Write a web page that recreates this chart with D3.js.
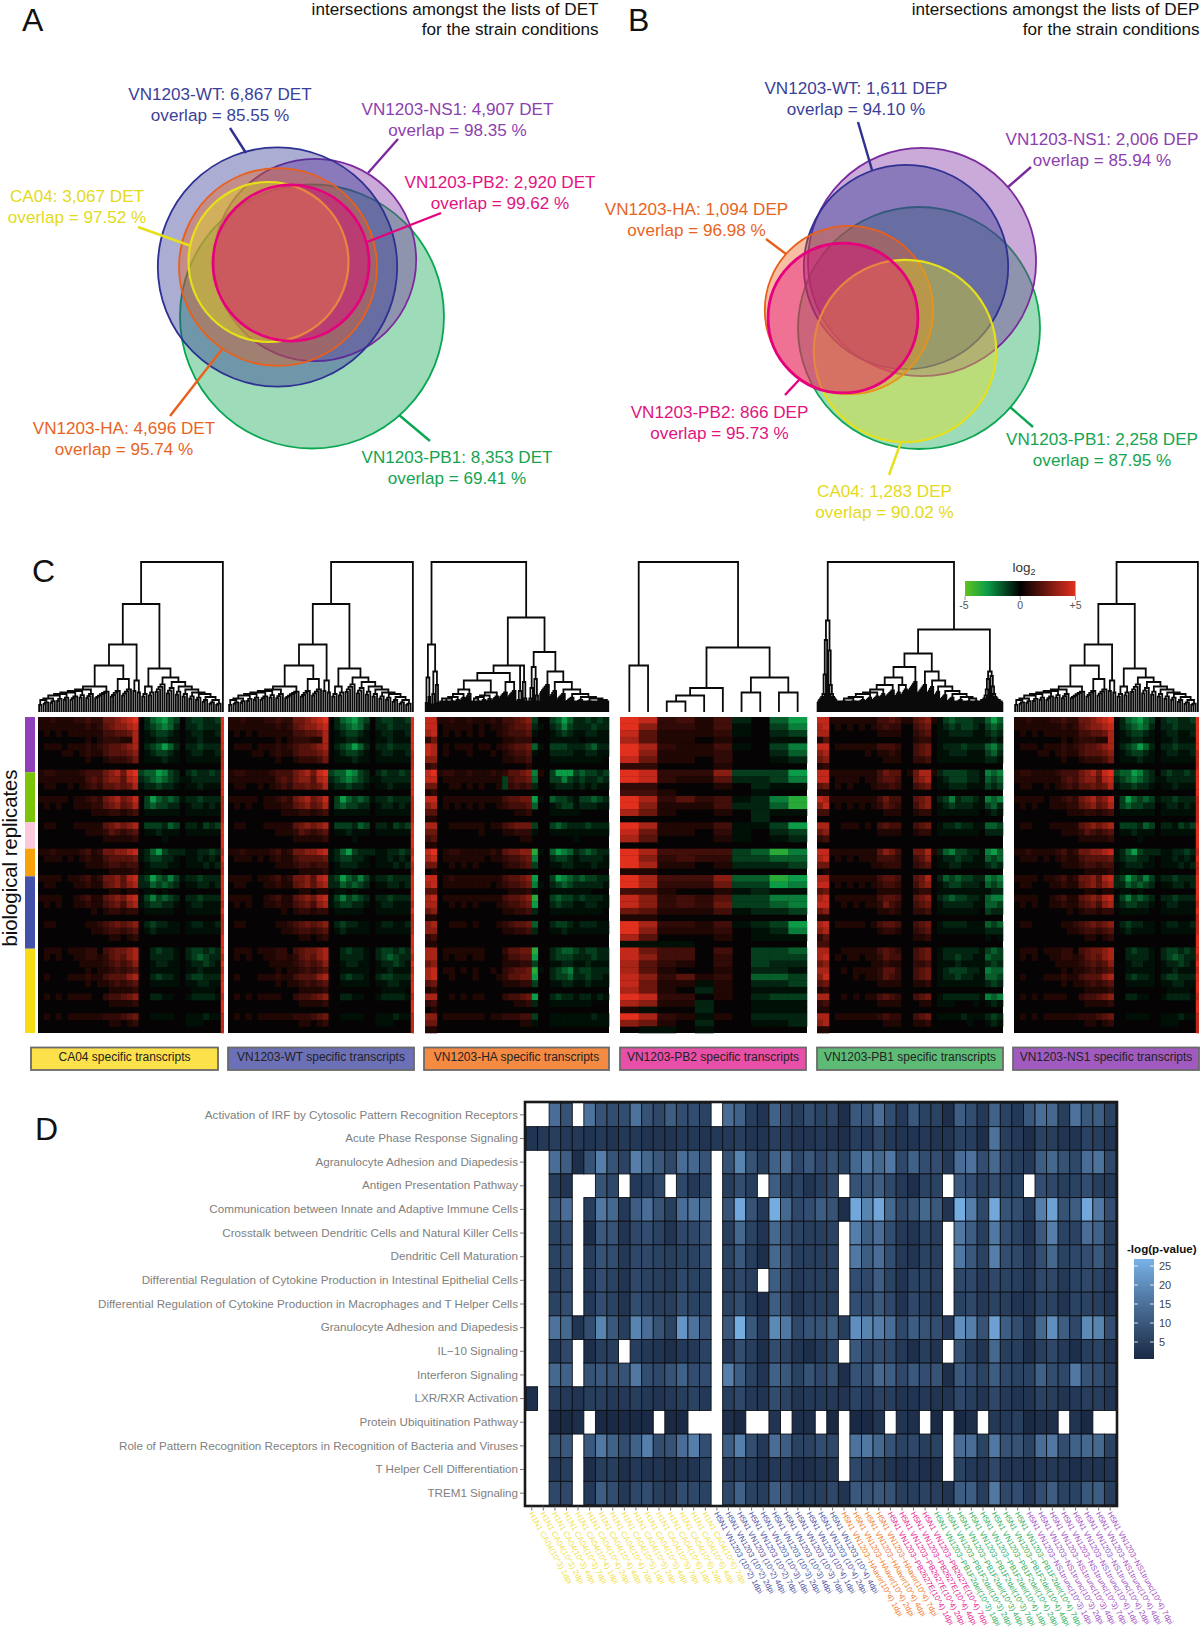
<!DOCTYPE html>
<html><head><meta charset="utf-8">
<script src="https://cdnjs.cloudflare.com/ajax/libs/d3/7.8.5/d3.min.js"></script>
<style>html,body{margin:0;padding:0;background:#fff}svg{display:block}text{font-family:"Liberation Sans",Arial,sans-serif}</style>
</head><body><svg id="c" width="1200" height="1630"></svg>
<script>
// ---------- Panel A / B data ----------
const strains = ["CA04","VN1203-WT","VN1203-HA","VN1203-PB2","VN1203-PB1","VN1203-NS1"];
const detCounts = [3067,6867,4696,2920,8353,4907];
const detOverlap = ["97.52","85.55","95.74","99.62","69.41","98.35"];
const depCounts = [1283,1611,1094,866,2258,2006];
const depOverlap = ["90.02","94.10","96.98","95.73","87.95","85.94"];
const detCx = [268.5,277.5,278,291,312,315];
const detCy = [262,267,267,263,316.5,260];
const depCx = [905,906,849,843,919,922];
const depCy = [351,267,310,318,328,262];

// ---------- Panel C data (levels: 1-9 red, a-i green, missing = 0) ----------
const redLevels = [0,.7,1.05,1.45,1.9,2.4,3,3.7,4.3,5];
const greenLevels = [.3,.7,1.2,1.8,2.4,3,3.7];
const ca04Rows = [
"1121112 2322 556 789 0 bdefdc 0 bccbbc","1111111 1212 456 678 0 bcdedb 0 bbcbbb","0101011 1111 334 457 0 abccba 0 abbaab","0000000 0101 222 117 0 aabbaa 0 aabaaa",
"0111011 1212 344 567 0 bcdfdb 0 bbcbbb","0000110 1211 344 456 0 abccba 0 abbaab","0000000 0100 122 235 0 aaabaa 0 aaaaaa","",
"1221111 2333 567 589 c ddfecb 0 bcbbcb","1111111 1343 566 478 b cdedcb a abbbbb","0110010 1232 445 457 a bbcbba 0 aabaaa","",
"1111101 1232 567 568 0 cfdcdc a bbcbbb","0101001 1122 456 457 0 cdccbb 0 abbaba","0000000 0011 122 123 0 aaaaaa 0 aaaaaa","",
"0110001 1111 456 567 0 cccbdc 0 bbacbc","0000000 0111 243 234 0 aabaaa 0 aaaaaa","0000000 0000 111 112 0 000a00 0 000000","",
"1121111 2312 556 678 a bdfcbb b aabbcb","0111010 1211 344 445 a bccbba 0 aababa","0000000 0111 233 233 0 abbbaa 0 aaabab","0000000 0000 011 112 0 aaa000 0 000000",
"1111011 2312 556 478 b cfdcec a bbcbbb","0110001 1211 456 467 b bdcdcb 0 aabbab","0000000 0000 011 011 0 aa0a00 0 000000","1111001 2311 456 578 a cecdcb 0 bbcbbb",
"0101001 1211 345 367 a bccbba 0 abbaaa","0000000 0010 122 122 0 aaaaa0 0 aaaaaa","","0110000 0112 345 456 0 bcbbaa 0 abbaab",
"0000000 0011 233 234 0 abaaaa 0 aaaaaa","0000000 0000 011 012 0 000000 0 000000","","0111011 1220 345 567 0 0bcbba 0 bccbcb",
"0101001 1221 245 467 0 0bbbba 0 bcdcbb","0000000 1111 234 346 0 0abbaa 0 abbcba","0000000 0101 123 234 0 0aaaaa 0 aabaaa","0100011 1211 344 467 0 0bcbba 0 bccbbb",
"0000000 0101 123 234 0 0aaaaa 0 aabbaa","0000000 0000 011 112 0 000000 0 0aaaa0","0101011 1100 233 456 0 0bbaa0 0 abbbba","0000000 0000 011 112 0 000000 0 000000",
"","0101011 1111 222 345 0 0aaaa0 0 aaabaa","0000000 0000 011 012 0 000000 0 aaa000",""];
const edgeStrip = "999998889999888899998988999989888999898999899888".split("");
const haRows = [
"88 11211211121 33456 c 00 cdfd bbcbcb","88 01111101011 23445 b a0 bcec bbbcbb","78 01010101001 23334 a 00 abcb aabbaa","25 00000000000 11222 0 00 aaaa a0aaaa",
"87 01011101101 23445 d a0 cccb bbcdbb","87 01000100010 12334 a 00 bbbb aabbaa","66 00000000000 11223 0 00 aaaa aaaaa0","23 00000000000 00001",
"89 12211211121 24456 e 10 cfff cdccbc","88 01111111111 c3445 d 00 ccec bcbbcb","55 00110101001 c2323 b 00 abbb ababaa","12",
"88 01111111111 34455 f a0 dccb accdcb","67 01010101001 23334 d 00 abcc abbbaa","44 00000000000 00112 0 00 aaaa a00000","11",
"77 00111111011 34555 c 00 cdcb bbcbbb","55 00000001000 11222 a 00 aaaa aaaaaa","34 00000000000 00011 0 00 0000 a00000","11",
"89 01221111121 45566 g a0 dfed bcdcbb","78 01111111011 23345 e 00 bccb abbbba","55 00101010000 12234 c 00 aabb aaabaa","01",
"88 01211111111 34456 f 00 cfed cdccbb","78 01111111101 23345 e a0 bcdc bbbbba","44 00000000000 01112 a 00 aaaa aaa000","78 01111111111 34456 g 00 cdcc bcbbba",
"77 00101010001 23345 f 00 bcbb aabbaa","56 00000000000 11223 b 00 aaaa aaaaa0","11","67 00111010001 23445 d 00 bccb abbbaa",
"66 00000000000 11223 b 00 aaba aaaaaa","23","11","77 01111111000 24455 g 00 bcdd cbccbb",
"77 01011011000 13344 f 00 bccc bbbcbb","56 00000000000 11122 c 00 aabb aabaaa","78 01101010010 23445 g a0 bcde bccbbb","78 00100010001 24455 f 00 bccd bbcbba",
"45 00000000000 11122 c 00 aabb aabaaa","12","77 00101011000 23345 f 00 bcbb abbaba","23 00000000000 00112 b 00 aaaa aaa000",
"01","66 01111111011 22233 c 00 aaaa aaabaa","55 00000000000 00011 a 00 aaaa aaaaaa","11"];
const pb2Rows = [
"98 2 3 1 3 b 0 d f","96 2 2 1 3 a 0 c e","84 1 1 1 2 a 0 b c","74 1 1 0 1 0 0 a a","97 2 1 1 3 a 0 c e","96 1 1 1 2 0 0 b d","85 1 1 0 2 0 0 a b","22 0 0 0 1 0 0 0 0",
"98 2 2 2 6 c c c f","98 2 1 1 4 b b c e","22 0 0 0 1 0 b a a","33 1 0 0 0 0 a 0 0","97 2 4 2 3 a b e g","96 1 1 1 3 b b d g","75 1 0 0 1 0 b a a","00 0 0 0 0 0 b 0 0",
"97 1 1 1 3 a a c f","85 1 1 0 2 a 0 b c","74 0 0 0 1 a 0 a b","","97 3 3 3 3 c d g e","96 2 3 2 2 c c d d","97 1 1 0 1 b b b c","11",
"97 3 3 3 6 d d g f","97 2 2 2 5 c c f e","33 1 0 0 1 a b a a","86 2 3 2 4 c c e e","86 2 3 2 5 c c d e","54 1 1 1 3 a b b c","11","97 2 2 1 3 a b c f",
"96 1 1 1 2 0 a b e","74 0 0 0 1 0 a a a","aa a a 0 0 0 0 0 0","85 3 3 0 3 0 c c d","86 3 3 0 2 0 c c c","74 2 1 0 2 0 c b b","74 1 0 0 1 0 b b a","86 2 4 1 2 0 d d c",
"85 1 1 a 1 0 b b c","75 1 0 b 1 0 a a a","98 2 2 0 1 0 b c c","76 1 1 b 0 0 a a a","1a 0 0 b 0 0 a a a","97 2 1 a 1 0 b b b","65 1 0 b 0 0 a a b","0a a 0 a 0 0 0 0 0"];
const pb1Rows = [
"88 11111111 3343 11 456 1 acdcccbb dfd","78 01010101 2322 00 345 0 abcbccba cdc","77 00000000 1111 00 234 0 aabbbbaa bcb","14 00000000 0000 00 122 0 aaaaaaaa aba",
"88 01111111 3332 00 345 0 abbbcbbb dec","67 00000010 1121 00 345 0 aabbbaaa cdb","56 00000000 0111 00 223 0 aaaaaaaa bba","12",
"88 11111111 3544 01 577 1 bccccbba ede","88 01111011 3443 00 567 0 abcccbba dcd","45 01010001 2232 00 345 0 aabbbaaa cbc","11",
"87 11111111 3533 00 456 0 bcebccba ede","68 01010101 2432 00 356 0 abcbbbaa cdb","33 00000000 0111 00 122 0 aaaaaaa0 aba","00",
"77 00111010 3433 00 345 0 abbcbbaa ddc","56 00000000 1111 00 122 0 aaaaaaa0 bbb","23","",
"88 11111111 4653 00 557 1 bdeccbba efd","78 01010111 3332 00 346 0 abbcbbaa dcd","55 00000001 1222 00 234 0 aabbaaaa bcb","01",
"77 11111111 3443 00 457 0 bdcdccbb ede","88 01010101 2332 00 356 0 abccbbba dcd","45 00000000 1111 00 122 0 aaaaaaaa abb","78 01111111 3443 00 456 0 bcdccbba dee",
"88 00101011 2532 00 345 0 abbbbbaa ddc","56 00000000 1121 00 223 0 aaaaaaa0 cbb","11","78 01111101 3443 00 345 0 abbbbaaa dcd",
"67 00000000 1221 00 234 0 aaaaaaaa bbb","24 00000000 0000 00 112 0 00000000 a0a","33","77 00111111 3432 00 345 0 abbbbbba cdc",
"78 01011011 2433 00 345 0 abbcbbaa dcc","56 00000001 1211 00 223 0 aaabaaaa bcb","77 00101111 2442 00 345 0 abcccbba edd","68 00001011 2432 00 345 0 abbcbbaa ddc",
"45 00000000 1111 00 112 0 aaaaaaaa bcb","12","77 00101011 3432 00 345 0 abbbbbba ede","23 00000000 1111 00 011 0 aaa000a0 aba",
"11","77 01111111 2322 00 345 0 aaaabaaa bcb","67 00000000 0111 00 112 0 00000a00 aba","11"];
const replicateRows = [8.4,7.6,4,4.2,11,12.8];
const replicateColors = ["#9040b8","#7cc40a","#fbc8dc","#f7a20a","#4352a8","#f5dc14"];
const transcriptTitles = ["CA04 specific transcripts","VN1203-WT specific transcripts","VN1203-HA specific transcripts","VN1203-PB2 specific transcripts","VN1203-PB1 specific transcripts","VN1203-NS1 specific transcripts"];
const boxColors = ["#fde14a","#6c70b7","#f58a42","#e84fa8","#5dbb75","#a15bc0"];

const leaf = () => ({h:0});
const N = (h,a,b) => ({h,children:[a,b]});
function cl(h,n,f=0){let t=leaf();for(let k=2;k<=n;k++)t=N(Math.max(f,h*(.55+.45*k/n)),t,leaf());return t;}
function ascR(hs){let t=leaf();hs.forEach(h=>{t=N(h,t,leaf());});return t;}
function ascL(hs){let t=leaf();hs.forEach(h=>{t=N(h,leaf(),t);});return t;}
const spike = (a,b,top) => N(top,ascR(a),ascL(b));
function roof(side,steps,f=0){let t=null;steps.forEach(([h,n])=>{const b=cl(Math.max(h*.8,f),n,f);t=!t?b:(side==="R"?N(h,t,b):N(h,b,t));});return t;}

const tree1 = () => N(100,
  N(72,
    N(45,
      N(31,
        roof("R",[[6,2],[8,3],[9,3],[11,3],[12,3],[13,4],[14,3],[15,4],[17,7]]),
        N(22,cl(14,5),cl(15,5))),
      N(21,cl(14,2),cl(13,2))),
    N(29,
      N(17,cl(12,3),cl(13,3)),
      roof("L",[[7,3],[8,3],[10,3],[12,3],[13,3],[15,3],[17,3],[20,4],[23,5]]))),
  leaf());
const treeHA = () => N(100,
  N(45,spike([6],[10],23),spike([5,12],[6,18],27)),
  N(63,
    N(31,
      N(26,
        N(21,roof("R",[[8,3],[9,3],[9,4],[10,4],[12,4],[15,4]],7),roof("R",[[8,3],[9,3],[10,4],[11,4],[13,5]],7)),
        N(20,cl(13,6,7),cl(14,6,7))),
      spike([7,8,14],[7,9,20],31)),
    N(40,
      spike([7,9,16],[7,11,22],30),
      N(27,cl(18,7,7),N(20,cl(14,5,7),roof("L",[[8,6],[8,6],[9,6],[10,6],[12,6],[15,6]],7))))));
const treePB2 = () => N(100,
  N(31,leaf(),leaf()),
  N(43,
    N(16,N(11,N(7,leaf(),leaf()),leaf()),leaf()),
    N(23,N(13,leaf(),leaf()),N(13,leaf(),leaf()))));
const treePB1 = () => N(100,
  spike([6,7,8,9,10,12,25,48],[6,7,8,9,10,12,18,41],61),
  N(55,
    N(39,
      N(30,
        N(23,roof("R",[[9,6],[9,8],[10,8],[12,6],[13,6],[15,5],[18,8]],7),N(18,cl(13,5,7),cl(15,6,7))),
        cl(20,8,7)),
      N(27,cl(18,8,7),roof("L",[[9,6],[9,7],[10,7],[12,6],[14,6],[17,5],[21,6]],7))),
    spike([6,7,7,8,8,9,11,15,22],[6,7,7,8,8,9,10,12,17,24],27)));

// ---------- Panel D data ----------
const pathways = ["Activation of IRF by Cytosolic Pattern Recognition Receptors","Acute Phase Response Signaling","Agranulocyte Adhesion and Diapedesis","Antigen Presentation Pathway","Communication between Innate and Adaptive Immune Cells","Crosstalk between Dendritic Cells and Natural Killer Cells","Dendritic Cell Maturation","Differential Regulation of Cytokine Production in Intestinal Epithelial Cells","Differential Regulation of Cytokine Production in Macrophages and T Helper Cells","Granulocyte Adhesion and Diapedesis","IL\u221210 Signaling","Interferon Signaling","LXR/RXR Activation","Protein Ubiquitination Pathway","Role of Pattern Recognition Receptors in Recognition of Bacteria and Viruses","T Helper Cell Differentiation","TREM1 Signaling"];
const dpi4 = ["1dpi","2dpi","4dpi","7dpi"];
const caLabels = ["10^3","10^4","10^5","10^6"].flatMap(d=>dpi4.map(t=>`H1N1 CA04(${d}) ${t}`));
const wtLabels = ["(10^2) 1dpi","(10^2) 2dpi","(10^2) 4dpi","(10^2) 7dpi","(10^3) 1dpi","(10^3) 2dpi","(10^3) 4dpi","(10^3) 7dpi","(10^4) 1dpi","(10^4) 2dpi","(10^4) 4dpi"].map(s=>`H5N1 VN1203 ${s}`);
const haLabels = dpi4.map(t=>`H5N1 VN1203\u2212HAavir(10^4) ${t}`);
const pb2Labels = dpi4.map(t=>`H5N1 VN1203\u2212PB2627E(10^4) ${t}`);
const pb1Labels = ["10^3","10^4"].flatMap(d=>dpi4.map(t=>`H5N1 VN1203\u2212PB1F2del(${d}) ${t}`));
const ns1Labels = ["10^3","10^4"].flatMap(d=>dpi4.map(t=>`H5N1 VN1203\u2212NS1trunc(${d}) ${t}`));
const labelGroups = [caLabels,wtLabels,haLabels,pb2Labels,pb1Labels,ns1Labels];
const labelColors = ["#f2e04a","#4b4fa0","#ef7a2a","#e5258f","#2fae5c","#a04ec2"];
const _ = null;
const pvalues = [
[_,_,14,9,_,15,9,8,8,15,9,7,11,8,8,6,_,14,12,5,3,12,7,5,8,6,7,2,10,9,14,8,4,10,6,6,2,11,8,4,12,6,4,10,14,13,5,15,10,11,6],
[3,4,5,4,4,3,4,3,4,4,3,3,3,4,4,3,4,4,5,3,3,5,4,3,3,4,3,2,5,4,7,4,3,3,4,3,3,6,5,2,15,5,4,2,6,5,3,3,6,5,3],
[_,_,14,11,2,9,17,9,6,17,13,10,7,14,13,9,_,9,18,9,5,12,14,7,10,7,9,6,13,16,13,16,7,12,8,8,4,14,15,8,13,7,5,4,11,13,9,7,14,15,7],
[_,_,5,3,_,_,9,7,_,4,5,7,_,7,4,6,_,5,8,5,_,11,5,6,3,5,7,_,9,9,11,7,4,2,6,6,_,10,8,5,8,6,6,_,8,7,5,6,8,5,4],
[_,_,10,14,_,5,16,13,4,11,14,9,5,14,15,13,_,9,24,9,4,25,13,7,8,11,9,2,24,18,24,13,7,9,13,10,3,25,17,7,24,9,8,4,17,23,9,11,24,16,8],
[_,_,6,8,_,2,10,9,3,7,8,6,3,7,7,9,_,5,13,6,3,13,8,6,5,5,6,_,17,11,14,8,4,3,6,5,_,16,11,5,16,8,6,3,10,17,6,6,14,12,5],
[_,_,6,8,_,5,9,8,4,7,7,6,5,6,6,8,_,6,10,5,2,13,9,5,5,5,6,_,16,11,14,8,4,3,6,5,_,16,10,6,17,8,7,4,8,13,6,7,8,10,5],
[_,_,5,7,_,4,8,6,3,7,6,5,4,7,6,6,_,5,7,5,_,11,7,4,5,5,5,_,8,7,11,6,3,6,6,5,_,7,7,4,7,6,5,3,7,7,4,6,7,6,3],
[_,_,6,8,_,4,8,6,3,8,6,5,5,8,6,6,_,6,8,4,2,11,7,3,5,5,5,_,8,7,10,7,3,7,5,4,_,6,7,4,6,5,3,3,6,6,3,6,6,5,3],
[_,_,15,13,3,8,18,10,5,18,14,9,6,21,15,9,_,10,25,10,4,19,16,7,9,9,11,5,20,18,17,14,7,11,9,8,4,20,17,9,23,11,8,4,13,20,11,7,19,18,8],
[_,_,4,7,_,2,5,5,_,5,4,3,2,4,4,6,_,4,8,5,2,8,6,3,2,4,6,_,10,7,8,7,4,2,5,3,_,9,5,3,13,5,5,2,5,7,4,2,5,6,3],
[_,_,13,12,_,9,10,9,9,16,8,7,9,12,8,8,_,17,11,6,3,12,10,6,9,7,9,2,9,8,13,11,7,10,8,9,2,10,8,6,11,7,6,6,12,8,7,16,9,8,5],
[2,_,5,4,3,5,5,4,4,5,4,3,4,5,6,4,_,5,7,4,3,8,6,3,4,4,4,3,6,4,6,5,3,3,4,3,3,7,5,3,7,4,3,3,6,5,3,4,5,5,3],
[_,_,1,1,2,_,1,1,1,1,1,_,1,1,_,_,_,2,1,_,_,3,_,2,2,_,1,_,1,1,3,_,3,2,_,1,_,1,2,_,4,4,5,1,2,2,_,3,1,_,_],
[_,_,9,10,_,10,16,12,8,12,17,8,9,14,17,8,_,11,17,8,4,14,11,6,6,8,7,_,15,16,13,9,6,7,5,6,_,14,14,6,16,9,9,6,14,16,8,12,13,13,6],
[_,_,4,5,_,2,5,5,2,4,3,3,2,3,3,5,_,4,5,4,2,4,4,2,2,3,3,_,7,5,5,3,2,3,2,2,_,6,4,3,7,3,3,2,4,4,3,2,3,3,3],
[_,_,7,7,_,4,11,8,4,7,8,5,4,8,7,6,_,7,12,6,5,11,9,5,5,5,7,3,10,9,10,9,5,5,6,5,3,11,11,5,16,7,8,4,8,11,6,6,10,11,5]];
const legendTicks = [25,20,15,10,5];

// ---------- Drawing ----------
const svg = d3.select("#c");
const ink = "#111";
const strainStroke = {"CA04":"#e6e01a","VN1203-WT":"#2e3192","VN1203-HA":"#e8601c","VN1203-PB2":"#e6007e","VN1203-PB1":"#0aa651","VN1203-NS1":"#7b2a9e"};
const strainText = {"CA04":"#e3da1c","VN1203-WT":"#3b3f99","VN1203-HA":"#e8641e","VN1203-PB2":"#e2137f","VN1203-PB1":"#16a44f","VN1203-NS1":"#8d3fb0"};
const strainWidth = {"CA04":2.2,"VN1203-WT":1.8,"VN1203-HA":1.8,"VN1203-PB2":2.8,"VN1203-PB1":1.8,"VN1203-NS1":1.8};
const drawOrder = ["VN1203-PB1","VN1203-NS1","VN1203-WT","VN1203-HA","CA04","VN1203-PB2"];

function venn(opt){
  const g = svg.append("g");
  const r = d3.scaleSqrt().domain([0,opt.maxCount]).range([0,opt.maxR]);
  const idx = drawOrder.map(n=>strains.indexOf(n));
  g.selectAll("circle").data(idx).join("circle")
    .attr("cx",i=>opt.cx[i]).attr("cy",i=>opt.cy[i]).attr("r",i=>r(opt.counts[i]))
    .attr("fill",i=>strainStroke[strains[i]]).attr("fill-opacity",.4)
    .attr("stroke",i=>strainStroke[strains[i]]).attr("stroke-width",i=>strainWidth[strains[i]]);
  opt.layout.forEach((l,i)=>{
    const name=strains[i], col=strainStroke[name];
    g.append("line").attr("x1",l.line[0]).attr("y1",l.line[1]).attr("x2",l.line[2]).attr("y2",l.line[3]).attr("stroke",col).attr("stroke-width",2.4);
    const t=g.append("text").attr("text-anchor","middle").attr("font-size",17.1).attr("fill",strainText[name]);
    t.append("tspan").attr("x",l.x).attr("y",l.y).text(`${name}: ${d3.format(",")(opt.counts[i])} ${opt.unit}`);
    t.append("tspan").attr("x",l.x).attr("y",l.y+21).text(`overlap = ${opt.overlap[i]} %`);
  });
  const t=g.append("text").attr("text-anchor","end").attr("font-size",17.1).attr("fill",ink);
  t.append("tspan").attr("x",opt.right).attr("y",15).text(`intersections amongst the lists of ${opt.unit}`);
  t.append("tspan").attr("x",opt.right).attr("y",35).text("for the strain conditions");
}
venn({counts:detCounts,overlap:detOverlap,unit:"DET",cx:detCx,cy:detCy,maxCount:8353,maxR:132,right:598.5,layout:[
 {x:77,y:202,line:[138,227,191,246]},{x:220,y:100,line:[230,128,246,153]},{x:124,y:434,line:[170,416,223,348]},
 {x:500,y:188,line:[441,213,367,242]},{x:457,y:463,line:[430,441,399,415]},{x:457.5,y:115,line:[398,139,368,173]}]});
venn({counts:depCounts,overlap:depOverlap,unit:"DEP",cx:depCx,cy:depCy,maxCount:2258,maxR:121,right:1199.5,layout:[
 {x:884.5,y:497,line:[889,475,901,442]},{x:856,y:94,line:[858,122,872,170]},{x:696.5,y:215,line:[766,239,786,254]},
 {x:719.5,y:418,line:[785,395,799,380]},{x:1102,y:445,line:[1033,427,1010,407]},{x:1102,y:145,line:[1031,167,1008,187]}]});

[["A",22,31],["B",628,31],["C",32,582],["D",35,1140]].forEach(([s,x,y])=>
  svg.append("text").attr("x",x).attr("y",y).attr("font-size",32).attr("fill",ink).text(s));

// Panel C
const heatColor = d3.scaleLinear().domain([-5,-3,0,5]).range(["#5fc31b","#0c9c48","#000000","#e2301e"]);
const level = ch => (ch>="0"&&ch<="9") ? redLevels[+ch] : -greenLevels[ch.charCodeAt(0)-97];
const heatTop=717, heatBottom=1033, dendTop=562, dendBase=712;
const panels = [
 {rows:ca04Rows,x0:38,x1:224,tree:tree1,cols:31,strip:3.2,box:[31,218]},
 {rows:ca04Rows,x0:228,x1:414,tree:tree1,cols:31,strip:3.2,box:[228,414]},
 {rows:haRows,x0:425,x1:609,tree:treeHA,cols:31,strip:0,box:[424,609]},
 {rows:pb2Rows,x0:620,x1:807,tree:treePB2,cols:10,strip:0,box:[620,806]},
 {rows:pb1Rows,x0:817,x1:1003,tree:treePB1,cols:31,strip:0,box:[817,1003]},
 {rows:ca04Rows,x0:1014,x1:1199,tree:tree1,cols:31,strip:3.2,box:[1013,1199]}];
const dendY = d3.scaleLinear().domain([0,100]).range([dendBase,dendTop]);
panels.forEach((p,pi)=>{
  const g=svg.append("g");
  const y=d3.scaleBand().domain(d3.range(p.rows.length)).range([heatTop,heatBottom]);
  const x=d3.scaleBand().domain(d3.range(p.cols)).range([p.x0,p.x1-p.strip]);
  g.append("rect").attr("x",p.x0).attr("y",heatTop).attr("width",p.x1-p.x0).attr("height",heatBottom-heatTop).attr("fill","#050303");
  const cells=[];
  p.rows.forEach((row,r)=>row.replace(/ /g,"").split("").forEach((ch,c)=>{if(ch!=="0")cells.push({r,c,v:level(ch)});}));
  g.selectAll("rect.cell").data(cells).join("rect").attr("class","cell")
    .attr("x",d=>x(d.c)).attr("y",d=>y(d.r)).attr("width",x.bandwidth()+.3).attr("height",y.bandwidth()+.3).attr("fill",d=>heatColor(d.v));
  if(p.strip){
    g.selectAll("rect.strip").data(edgeStrip).join("rect").attr("class","strip")
      .attr("x",p.x1-p.strip).attr("y",(d,i)=>y(i)).attr("width",p.strip).attr("height",y.bandwidth()+.3).attr("fill",d=>heatColor(level(d)));
  }
  // dendrogram
  const root=d3.hierarchy(p.tree());
  d3.cluster().size([p.x1-p.x0,1]).separation(()=>1)(root);
  g.append("path").attr("fill","none").attr("stroke","#0a0a0a").attr("stroke-width",1.8)
    .attr("d",root.descendants().filter(n=>n.children).map(n=>{
      const [a,b]=n.children, X=v=>p.x0+v;
      return `M${X(a.x)},${dendY(a.data.h)}V${dendY(n.data.h)}H${X(b.x)}V${dendY(b.data.h)}`;
    }).join(""));
  // strain box
  g.append("rect").attr("x",p.box[0]).attr("y",1047.5).attr("width",p.box[1]-p.box[0]).attr("height",22.5)
    .attr("fill",boxColors[pi]).attr("stroke","#6a6a6a").attr("stroke-width",1.8);
  g.append("text").attr("x",(p.box[0]+p.box[1])/2).attr("y",1061).attr("text-anchor","middle").attr("font-size",12).attr("fill","#222").text(transcriptTitles[pi]);
});
// replicate side bar
const repY=d3.scaleLinear().domain([0,d3.sum(replicateRows)]).range([heatTop,heatBottom]);
let cum=0;
replicateRows.forEach((n,i)=>{
  svg.append("rect").attr("x",25).attr("width",10).attr("y",repY(cum)).attr("height",repY(cum+n)-repY(cum)).attr("fill",replicateColors[i]);
  cum+=n;
});
svg.append("text").attr("transform","translate(17,858) rotate(-90)").attr("text-anchor","middle").attr("font-size",20.3).attr("fill",ink).text("biological replicates");

// log2 colour legend
const defs=svg.append("defs");
const grad=defs.append("linearGradient").attr("id","lg");
d3.range(0,1.01,.1).forEach(t=>grad.append("stop").attr("offset",t).attr("stop-color",heatColor(-5+10*t)));
const lgX=d3.scaleLinear().domain([-5,5]).range([965,1075.5]);
svg.append("rect").attr("x",lgX(-5)).attr("y",581).attr("width",lgX(5)-lgX(-5)).attr("height",15).attr("fill","url(#lg)");
[[-5,"-5"],[0,"0"],[5,"+5"]].forEach(([v,s])=>{
  svg.append("line").attr("x1",lgX(v)).attr("x2",lgX(v)).attr("y1",596).attr("y2",600).attr("stroke","#999");
  svg.append("text").attr("x",lgX(v)-(v<0?1:0)).attr("y",609).attr("text-anchor","middle").attr("font-size",10.5).attr("fill","#555").text(s);
});
const lg=svg.append("text").attr("x",1024).attr("y",572).attr("text-anchor","middle").attr("font-size",13.5).attr("fill","#333");
lg.append("tspan").text("log");
lg.append("tspan").attr("dy",3).attr("font-size",9).text("2");

// Panel D
const colLabels=labelGroups.flat();
const colColor={}; labelGroups.forEach((g,i)=>g.forEach(s=>colColor[s]=labelColors[i]));
const hx=d3.scaleBand().domain(colLabels).range([526,1116]);
const hy=d3.scaleBand().domain(pathways).range([1103,1505]);
const pColor=d3.scaleLinear().domain([1,26]).range(["#1a2a45","#79b3e8"]).interpolate(d3.interpolateLab);
const hcells=[];
pathways.forEach((p,r)=>pvalues[r].forEach((v,c)=>{if(v!==null)hcells.push({p,l:colLabels[c],v});}));
const dg=svg.append("g");
dg.selectAll("rect").data(hcells).join("rect")
  .attr("x",d=>hx(d.l)).attr("y",d=>hy(d.p)).attr("width",hx.bandwidth()).attr("height",hy.bandwidth())
  .attr("fill",d=>pColor(d.v)).attr("stroke","#0b0f16").attr("stroke-width",.9);
dg.append("rect").attr("x",525).attr("y",1102).attr("width",592).attr("height",404).attr("fill","none").attr("stroke","#1a1a1a").attr("stroke-width",2.6);
const ay=dg.append("g").attr("transform","translate(524,0)").call(d3.axisLeft(hy).tickSize(4).tickPadding(2));
ay.select(".domain").remove();
ay.selectAll("line").attr("stroke","#777");
ay.selectAll("text").attr("font-size",11.65).attr("fill","#808080").attr("font-family","'Liberation Sans',Arial,sans-serif");
const ax=dg.append("g").attr("transform","translate(0,1506.5)").call(d3.axisBottom(hx).tickSize(4));
ax.select(".domain").remove();
ax.selectAll("line").attr("stroke","#777");
ax.selectAll("text").attr("font-size",7.9).attr("text-anchor","start").attr("fill",d=>colColor[d])
  .attr("font-family","'Liberation Sans',Arial,sans-serif")
  .attr("y",0).attr("dy",0).attr("transform","translate(-3,7) rotate(61)");

// p-value legend
const plY=d3.scaleLinear().domain([5,25]).range([1342,1266]);
const pg=defs.append("linearGradient").attr("id","pg").attr("x1",0).attr("y1",1).attr("x2",0).attr("y2",0);
d3.range(0,1.01,.1).forEach(t=>pg.append("stop").attr("offset",t).attr("stop-color",pColor(1+25*t)));
svg.append("rect").attr("x",1134).attr("y",1259).attr("width",20).attr("height",100).attr("fill","url(#pg)");
legendTicks.forEach(v=>{
  svg.append("line").attr("x1",1134).attr("x2",1138).attr("y1",plY(v)).attr("y2",plY(v)).attr("stroke","#fff").attr("stroke-opacity",.8);
  svg.append("line").attr("x1",1150).attr("x2",1154).attr("y1",plY(v)).attr("y2",plY(v)).attr("stroke","#fff").attr("stroke-opacity",.8);
  svg.append("text").attr("x",1159).attr("y",plY(v)+4).attr("font-size",11).attr("fill","#444").text(v);
});
svg.append("text").attr("x",1127).attr("y",1253).attr("font-size",11.6).attr("font-weight","bold").attr("fill",ink).text("-log(p-value)");
</script></body></html>
